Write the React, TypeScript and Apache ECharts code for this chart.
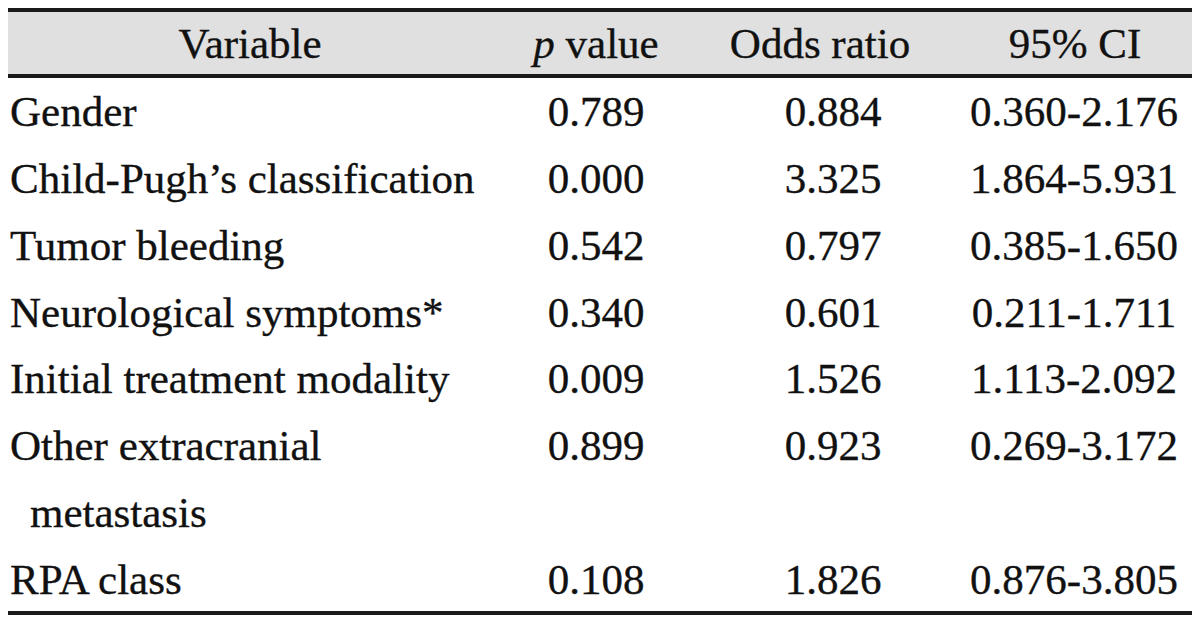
import React, { useEffect, useRef } from "react";
import * as echarts from "echarts";

const headers = ["Variable", "p value", "Odds ratio", "95% CI"];
const variables = [
  ["Gender"],
  ["Child-Pugh’s classification"],
  ["Tumor bleeding"],
  ["Neurological symptoms*"],
  ["Initial treatment modality"],
  ["Other extracranial", "metastasis"],
  ["RPA class"],
];
const pValues = ["0.789", "0.000", "0.542", "0.340", "0.009", "0.899", "0.108"];
const oddsRatios = ["0.884", "3.325", "0.797", "0.601", "1.526", "0.923", "1.826"];
const ciLower = ["0.360", "1.864", "0.385", "0.211", "1.113", "0.269", "0.876"];
const ciUpper = ["2.176", "5.931", "1.650", "1.711", "2.092", "3.172", "3.805"];

const FONT = "'Liberation Serif', 'Times New Roman', serif";
const FS = 43;
const INK = "#111111";

export default function App() {
  const ref = useRef<HTMLDivElement>(null);
  useEffect(() => {
    if (!ref.current) return;
    const chart = echarts.init(ref.current, undefined, { renderer: "svg" });
    const left = 8;
    const right = 1192;
    const headerCenterX = [250, 596, 820, 1075];
    const valueCenterX = [596, 833, 1074];
    const headerBaseline = 58;
    const firstBaseline = 126.5;
    const pitch = 66.75;
    const mid = (b: number) => b - 0.34 * FS;
    const textStyle = (t: string, align: string) => ({
      text: t,
      font: `${FS}px ${FONT}`,
      fill: INK,
      stroke: INK,
      lineWidth: 0.35,
      align,
      verticalAlign: "middle",
    });

    const els: any[] = [];
    els.push({ type: "rect", shape: { x: left, y: 12, width: right - left, height: 63 }, style: { fill: "#e0e0e0" } });
    els.push({ type: "rect", shape: { x: left, y: 8, width: right - left, height: 4 }, style: { fill: "#1a1a1a" } });
    els.push({ type: "rect", shape: { x: left, y: 74, width: right - left, height: 4 }, style: { fill: "#1a1a1a" } });

    headers.forEach((h, i) => {
      const isP = h.startsWith("p ");
      const st: any = textStyle(isP ? "{i|p} value" : h, "center");
      if (isP) {
        st.rich = { i: { fontStyle: "italic", fontSize: FS, fontFamily: FONT, fill: INK, stroke: INK, lineWidth: 0.35 } };
      }
      els.push({ type: "text", x: headerCenterX[i], y: mid(headerBaseline), style: st });
    });

    let line = 0;
    variables.forEach((lines, r) => {
      const b = firstBaseline + line * pitch;
      lines.forEach((t, k) => {
        els.push({
          type: "text",
          x: k === 0 ? 10 : 30,
          y: mid(b + k * pitch),
          style: textStyle(t, "left"),
        });
      });
      const vals = [pValues[r], oddsRatios[r], `${ciLower[r]}-${ciUpper[r]}`];
      vals.forEach((v, c) => {
        els.push({ type: "text", x: valueCenterX[c], y: mid(b), style: textStyle(v, "center") });
      });
      line += lines.length;
    });
    els.push({ type: "rect", shape: { x: left, y: 611, width: right - left, height: 4 }, style: { fill: "#1a1a1a" } });

    chart.setOption({ animation: false, backgroundColor: "#ffffff", graphic: { elements: els } });
    return () => chart.dispose();
  }, []);
  return <div ref={ref} style={{ position: "fixed", left: 0, top: 0, width: 1200, height: 622 }} />;
}
